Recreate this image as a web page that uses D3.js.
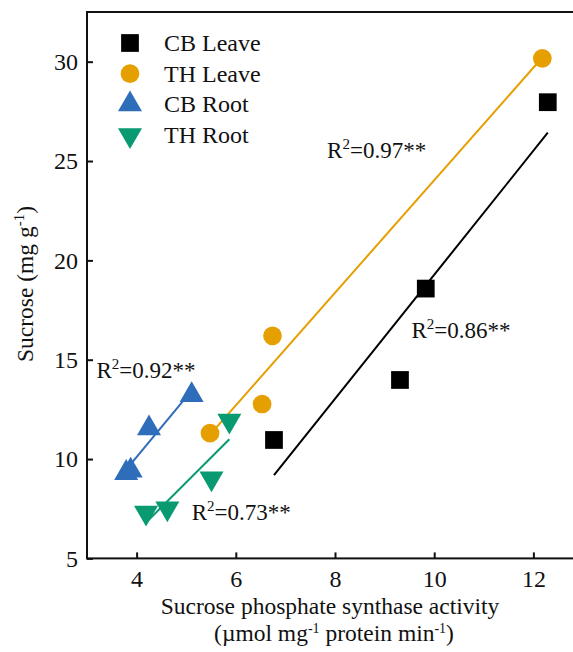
<!DOCTYPE html>
<html>
<head>
<meta charset="utf-8">
<script src="https://cdn.jsdelivr.net/npm/d3@7"></script>
<style>
  body { margin: 0; background: #fff; }
  text { font-family: "Liberation Serif", "Times New Roman", serif; fill: #111; }
</style>
</head>
<body>
<div id="chart"></div>
<script>
'use strict';

let width = 573;
let height = 652;
let margin = { top: 12, left: 87 };
let plotW = 496;
let plotH = 546.4;

// series
const seriesNames = ["CB Leave", "TH Leave", "CB Root", "TH Root"];
const seriesColors = ["#000000", "#E69F00", "#2E6DB9", "#0A9A72"];
const seriesShapes = ["square", "circle", "up", "down"];

const cbLeaveX = [6.77, 9.31, 9.83, 12.29];
const cbLeaveY = [10.96, 13.98, 18.58, 27.96];
const thLeaveX = [5.48, 6.53, 6.74, 12.18];
const thLeaveY = [11.30, 12.77, 16.20, 30.17];
const cbRootX = [3.79, 3.88, 4.25, 5.11];
const cbRootY = [9.30, 9.42, 11.55, 13.22];
const thRootX = [4.19, 4.62, 5.51, 5.87];
const thRootY = [7.30, 7.52, 9.03, 11.93];

const xTicks = [4, 6, 8, 10, 12];
const yTicks = [5, 10, 15, 20, 25, 30];

// R2 annotations (left edge / baseline, in data units)
const r2Values = ["0.86**", "0.97**", "0.92**", "0.73**"];
const r2X = [9.54, 7.84, 3.19, 5.11];
const r2Y = [16.09, 25.15, 14.08, 6.93];

const seriesX = [cbLeaveX, thLeaveX, cbRootX, thRootX];
const seriesY = [cbLeaveY, thLeaveY, cbRootY, thRootY];

const x = d3.scaleLinear().domain([3, 13]).range([0, plotW]);
const y = d3.scaleLinear().domain([5, 32.5]).range([plotH, 0]);

const svg = d3.select("#chart")
    .append("svg")
    .attr("width", width)
    .attr("height", height);

const g = svg.append("g")
    .attr("transform", `translate(${margin.left},${margin.top})`);

function symbolPath(shape, size) {
    if (shape === "square") return d3.symbol(d3.symbolSquare, size)();
    if (shape === "circle") return d3.symbol(d3.symbolCircle, size)();
    return d3.symbol(d3.symbolTriangle, size)();
}
const symSize = { square: 315, circle: 275, up: 250, down: 250 };

// regression lines
function fit(xs, ys) {
    const mx = d3.mean(xs), my = d3.mean(ys);
    const sxy = d3.sum(xs, (v, i) => (v - mx) * (ys[i] - my));
    const sxx = d3.sum(xs, v => (v - mx) * (v - mx));
    const b = sxy / sxx;
    const a = my - b * mx;
    const x0 = d3.min(xs), x1 = d3.max(xs);
    return [[x0, a + b * x0], [x1, a + b * x1]];
}

seriesNames.forEach((name, i) => {
    const seg = fit(seriesX[i], seriesY[i]);
    g.append("line")
        .attr("x1", x(seg[0][0])).attr("y1", y(seg[0][1]))
        .attr("x2", x(seg[1][0])).attr("y2", y(seg[1][1]))
        .attr("stroke", seriesColors[i])
        .attr("stroke-width", 2);
});

// points
seriesNames.forEach((name, i) => {
    const shape = seriesShapes[i];
    const pts = seriesX[i].map((v, j) => [v, seriesY[i][j]]);
    g.selectAll(".pt" + i)
        .data(pts)
        .join("path")
        .attr("d", symbolPath(shape, symSize[shape]))
        .attr("transform", d => `translate(${x(d[0])},${y(d[1])})` + (shape === "down" ? " rotate(180)" : ""))
        .attr("fill", seriesColors[i]);
});

// axes (ticks point inward)
const xAxis = g.append("g")
    .attr("transform", `translate(0,${plotH})`)
    .call(d3.axisBottom(x).tickValues(xTicks).tickSizeInner(-6).tickSizeOuter(0).tickPadding(12));
const yAxis = g.append("g")
    .call(d3.axisLeft(y).tickValues(yTicks).tickSizeInner(-6).tickSizeOuter(0).tickPadding(9));

[xAxis, yAxis].forEach(a => {
    a.select(".domain").remove();
    a.selectAll("line").attr("stroke", "#111").attr("stroke-width", 2);
    a.selectAll("text").style("font-size", "24px").attr("fill", "#111")
        .style("font-family", '"Liberation Serif", "Times New Roman", serif');
});

// frame
g.append("rect")
    .attr("x", 0).attr("y", 0)
    .attr("width", plotW).attr("height", plotH)
    .attr("fill", "none")
    .attr("stroke", "#111")
    .attr("stroke-width", 2);

// R2 labels
r2Values.forEach((v, i) => {
    const t = g.append("text")
        .attr("x", x(r2X[i]))
        .attr("y", y(r2Y[i]))
        .style("font-size", "23px");
    t.append("tspan").text("R");
    t.append("tspan").attr("dy", -9).style("font-size", "15px").text("2");
    t.append("tspan").attr("dy", 9).text("=" + v);
});

// legend
const legend = g.append("g").attr("transform", "translate(43,31)");
seriesNames.forEach((name, i) => {
    const shape = seriesShapes[i];
    const row = legend.append("g").attr("transform", `translate(0,${i * 30.7})`);
    row.append("path")
        .attr("d", symbolPath(shape, symSize[shape]))
        .attr("transform", shape === "down" ? "rotate(180)" : null)
        .attr("fill", seriesColors[i]);
    row.append("text")
        .attr("x", 34)
        .attr("y", 8)
        .style("font-size", "24px")
        .text(name);
});

// axis titles, two separate lines
svg.append("text")
    .attr("text-anchor", "middle")
    .attr("x", 330).attr("y", 614)
    .style("font-size", "23.5px")
    .text("Sucrose phosphate synthase activity");

const l2 = svg.append("text")
    .attr("text-anchor", "middle")
    .attr("x", 334).attr("y", 641)
    .style("font-size", "23.5px");
l2.append("tspan").text("(\u00b5mol mg");
l2.append("tspan").attr("dy", -8).style("font-size", "14px").text("-1");
l2.append("tspan").attr("dy", 8).text(" protein min");
l2.append("tspan").attr("dy", -8).style("font-size", "14px").text("-1");
l2.append("tspan").attr("dy", 8).text(")");

const yt = svg.append("text")
    .attr("text-anchor", "middle")
    .attr("transform", "translate(33,284) rotate(-90)")
    .style("font-size", "23.5px");
yt.append("tspan").text("Sucrose (mg g");
yt.append("tspan").attr("dy", -9).style("font-size", "15px").text("-1");
yt.append("tspan").attr("dy", 9).text(")");
</script>
</body>
</html>
